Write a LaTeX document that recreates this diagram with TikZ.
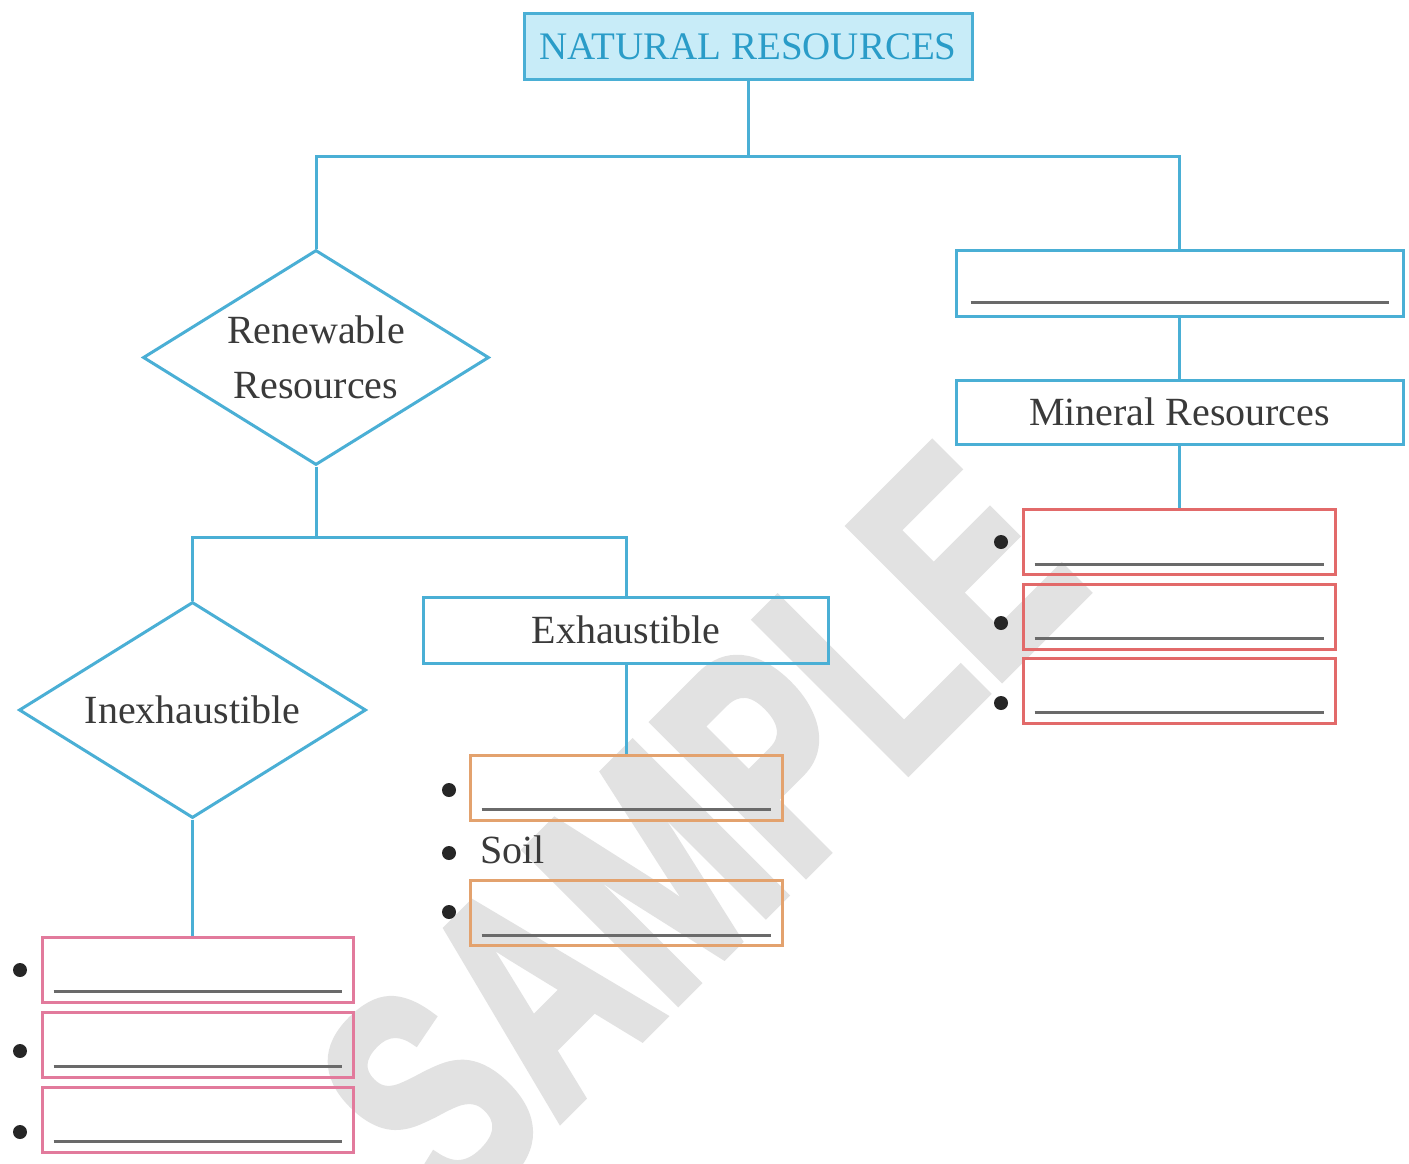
\documentclass[tikz,border=0pt]{standalone}
\usepackage{fontspec}
\setmainfont{Liberation Serif}
\newfontfamily\wmfont[FakeBold=3]{Liberation Sans}
\usetikzlibrary{shapes.geometric}
\definecolor{lineblue}{HTML}{4AAFD5}
\definecolor{topfill}{HTML}{C8ECF8}
\definecolor{toptext}{HTML}{2A9CC8}
\definecolor{txt}{HTML}{3A3A3A}
\definecolor{redb}{HTML}{E26A6A}
\definecolor{orab}{HTML}{E3A26E}
\definecolor{pinkb}{HTML}{E27A9C}
\definecolor{ulgray}{HTML}{6A6A6A}
\definecolor{wm}{HTML}{E2E2E2}
\begin{document}
\begin{tikzpicture}[x=1pt,y=-1pt,
  conn/.style={draw=lineblue,line width=3pt},
  lbl/.style={text=txt,font=\fontsize{40}{55}\selectfont,inner sep=0pt},
  bluebox/.style={lbl,draw=lineblue,line width=3pt,rectangle},
  topbox/.style={bluebox,fill=topfill,text=toptext,font=\fontsize{39}{45}\selectfont},
  dia/.style={lbl,draw=lineblue,line width=3pt,diamond,aspect=1.6,align=center},
  redbox/.style={draw=redb,line width=3pt,rectangle,inner sep=0pt,minimum width=312,minimum height=65},
  orabox/.style={draw=orab,line width=3pt,rectangle,inner sep=0pt,minimum width=312,minimum height=65},
  pinkbox/.style={draw=pinkb,line width=3pt,rectangle,inner sep=0pt,minimum width=311,minimum height=65},
  uline/.style={draw=ulgray,line width=3pt},
  bul/.style={fill=black!85}
]
\useasboundingbox (0,0) rectangle (1409,1164);
\fill[white] (0,0) rectangle (1409,1164);
% watermark
\node[text=wm,font=\wmfont\bfseries\fontsize{310}{310}\selectfont,rotate=45,xscale=0.7,inner sep=0pt] (wmk) at (698,830) {SAMPLE};

% nodes
\node[topbox,minimum width=448,minimum height=66] (nr) at (748,47) {NATURAL RESOURCES};
\node[dia,minimum width=346,minimum height=215] (ren) at (316,357.5) {Renewable\\Resources};
\node[bluebox,minimum width=447,minimum height=66] (rb) at (1179.5,283) {};
\node[bluebox,minimum width=447,minimum height=64] (min) at (1179.5,412) {Mineral Resources};
\node[redbox] (r1) at (1179,542) {};
\node[redbox] (r2) at (1179,616.5) {};
\node[redbox] (r3) at (1179,690.5) {};
\node[dia,minimum width=347,minimum height=216] (inex) at (192.5,710) {Inexhaustible};
\node[bluebox,minimum width=405,minimum height=66] (exh) at (626,630) {Exhaustible};
\node[orabox] (o1) at (626,787.5) {};
\node[orabox] (o2) at (626,913) {};
\node[lbl,anchor=base west] (soil) at (480,863) {Soil};
\node[pinkbox] (p1) at (197.5,969.5) {};
\node[pinkbox] (p2) at (197.5,1044.5) {};
\node[pinkbox] (p3) at (197.5,1119.5) {};

% connectors
\coordinate (j1) at (748,156);
\coordinate (j2) at (316,537);
\draw[conn] (nr.south) -- (j1);
\draw[conn] (ren.north) |- (j1) -| (rb.north);
\draw[conn] (rb.south) -- (min.north);
\draw[conn] (min.south) -- (r1.north -| min.south);
\draw[conn] (ren.south) -- (j2);
\draw[conn] (inex.north) |- (j2) -| (exh.north);
\draw[conn] (exh.south) -- (o1.north);
\draw[conn] (inex.south) -- (inex.south |- p1.north);

% underlines
\draw[uline] ([xshift=16pt,yshift=15pt]rb.south west) -- ([xshift=-16pt,yshift=15pt]rb.south east);
\foreach \b in {r1,r2,r3,o1,o2,p1,p2,p3}{
  \draw[uline] ([xshift=13pt,yshift=12pt]\b.south west) -- ([xshift=-13pt,yshift=12pt]\b.south east);
}

% bullets
\foreach \p in {(1001,542),(1001,623),(1001,703),(449,790),(449,853),(449,912),(20,970),(20,1051),(20,1132)}{
  \fill[bul] \p circle[radius=7];
}
\end{tikzpicture}
\end{document}
